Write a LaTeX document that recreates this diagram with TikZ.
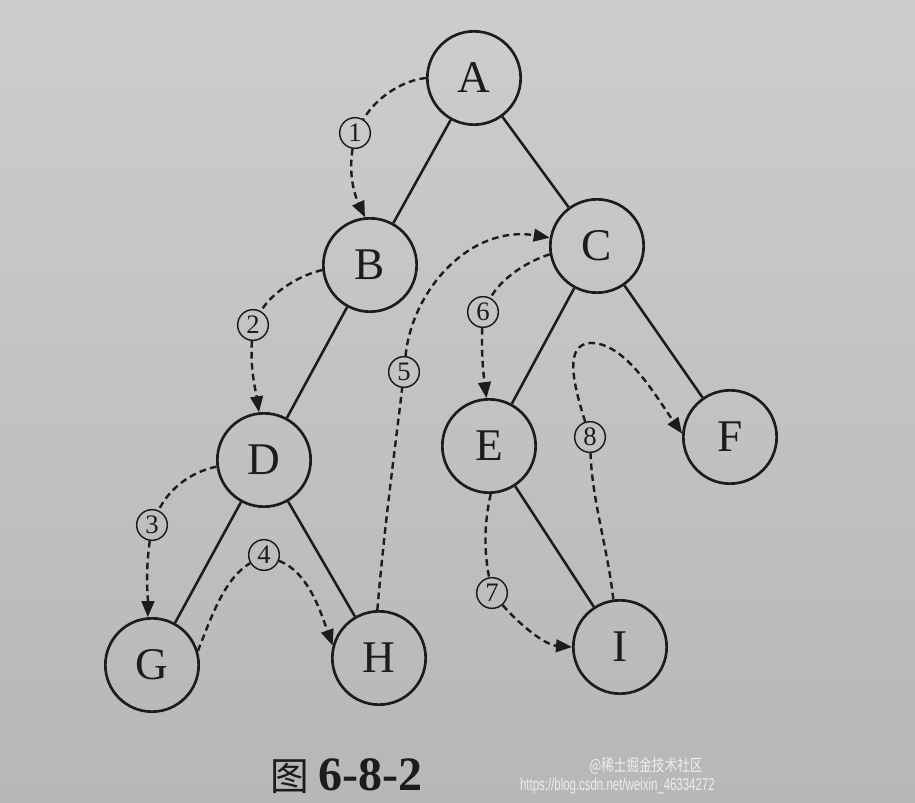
\documentclass[tikz,border=0pt]{standalone}
\usepackage{fontspec}
\setmainfont{Liberation Serif}
\newfontfamily\cjk{Noto Sans CJK SC}
\newfontfamily\wmfont{Liberation Sans}
\usetikzlibrary{arrows.meta}

\definecolor{paperTop}{RGB}{206,205,203}
\definecolor{paperBot}{RGB}{184,183,181}
\definecolor{ink}{RGB}{28,28,28}
\definecolor{wmark}{RGB}{238,238,238}

\tikzset{every picture/.style={line width=0.75pt}}
\tikzset{
  vertex/.style={circle, draw=ink, line width=2pt, minimum size=70pt, inner sep=0pt, text=ink, font=\fontsize{34}{34}\selectfont},
  order/.style={circle, draw=ink, line width=1.1pt, minimum size=23pt, inner sep=0pt, text=ink, font=\fontsize{20}{20}\selectfont},
  branch/.style={draw=ink, line width=1.9pt},
  walk/.style={draw=ink, line width=1.8pt, dash pattern=on 5pt off 3.2pt},
  walkto/.style={walk, -{Triangle[length=12pt,width=9.5pt]}},
}

\begin{document}
\begin{tikzpicture}[x=0.75pt,y=0.75pt,yscale=-1,xscale=1]
	%paper
	\shade [top color=paperTop, bottom color=paperBot] (0,0) rectangle (915,803);
	\useasboundingbox (0,0) rectangle (915,803);

	%Shape: Circle
	\draw (474,78) node[vertex] (A) {A};
	\draw (370,265) node[vertex] (B) {B};
	\draw (597,246) node[vertex] (C) {C};
	\draw (264,460) node[vertex] (D) {D};
	\draw (489,446) node[vertex] (E) {E};
	\draw (730,437) node[vertex] (F) {F};
	\draw (152,665) node[vertex] (G) {G};
	\draw (379,658) node[vertex] (H) {H};
	\draw (620,647) node[vertex] (I) {I};

	% Text Node
	\draw (355,133) node[order] (n1) {1};
	\draw (253,325) node[order] (n2) {2};
	\draw (152,525) node[order] (n3) {3};
	\draw (264,555) node[order] (n4) {4};
	\draw (404,372) node[order] (n5) {5};
	\draw (483,312) node[order] (n6) {6};
	\draw (492,593) node[order] (n7) {7};
	\draw (590,437) node[order] (n8) {8};

	%Straight Lines
	\draw [branch] (A) -- (B);
	\draw [branch] (A) -- (C);
	\draw [branch] (B) -- (D);
	\draw [branch] (C) -- (E);
	\draw [branch] (C) -- (F);
	\draw [branch] (D) -- (G);
	\draw [branch] (D) -- (H);
	\draw [branch] (E) -- (I);

	%Curve Lines
	\draw [walk] (A.west) .. controls (405,80) and (378,95) .. (n1);
	\draw [walkto] (n1) .. controls (348,178) and (356,198) .. (B.96);
	%Curve Lines
	\draw [walk] (B.186) .. controls (300,275) and (272,292) .. (n2);
	\draw [walkto] (n2) .. controls (250,370) and (256,392) .. (D.96);
	%Curve Lines
	\draw [walk] (D.188) .. controls (190,472) and (168,490) .. (n3);
	\draw [walkto] (n3) .. controls (145,575) and (148,598) .. (G.95);
	%Curve Lines
	\draw [walk] (G.17) .. controls (212,615) and (225,578) .. (n4);
	\draw [walkto] (n4) .. controls (308,572) and (320,610) .. (H.165);
	%Curve Lines
	\draw [walk] (H.92) .. controls (385,520) and (395,450) .. (n5);
	\draw [walkto] (n5) .. controls (412,290) and (470,225) .. (C.170);
	%Curve Lines
	\draw [walk] (C.190) .. controls (525,262) and (500,280) .. (n6);
	\draw [walkto] (n6) .. controls (481,355) and (484,378) .. (E.93);
	%Curve Lines
	\draw [walk] (E.272) .. controls (484,525) and (484,550) .. (n7);
	\draw [walkto] (n7) .. controls (520,625) and (545,645) .. (I.180);
	%Curve Lines
	\draw [walk] (I.98) .. controls (608,550) and (592,500) .. (n8);
	\draw [walkto] (n8) .. controls (572,380) and (565,345) .. (590,343) .. controls (625,342) and (655,395) .. (F.176);

	% Text Node
	\draw (270,776) node[anchor=west, inner sep=0pt, text=ink] (cap) {{\cjk\fontsize{29}{29}\selectfont 图}\hspace{7pt}{\bfseries\fontsize{36}{36}\selectfont 6-8-2}};
	% Text Node
	\draw (703,766) node[anchor=east, inner sep=0pt, text=wmark, xscale=0.76] (wm1) {\cjk\fontsize{12.5}{12.5}\selectfont @稀土掘金技术社区};
	\draw (715,786) node[anchor=east, inner sep=0pt, text=wmark, xscale=0.66] (wm2) {\wmfont\fontsize{13}{13}\selectfont https://blog.csdn.net/weixin\_46334272};

\end{tikzpicture}
\end{document}
